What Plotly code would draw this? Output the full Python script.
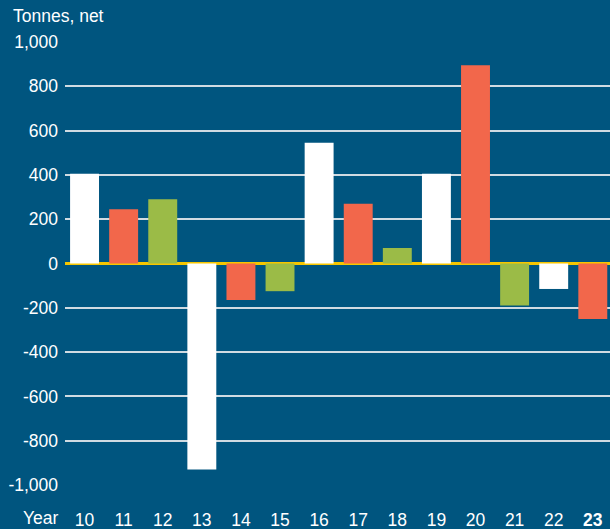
import plotly.graph_objects as go

years = ["10", "11", "12", "13", "14", "15", "16", "17", "18", "19", "20", "21", "22", "23"]
values = [405, 245, 290, -930, -165, -125, 545, 270, 70, 405, 895, -190, -115, -250]
palette = ["#ffffff", "#f2674b", "#9bbb47"]
colors = [palette[i % 3] for i in range(len(years))]
tick_labels = ["<b>23</b>" if y == "23" else y for y in years]
y_ticks = [-1000, -800, -600, -400, -200, 0, 200, 400, 600, 800, 1000]
y_tick_text = ["-1,000", "-800", "-600", "-400", "-200", "0", "200", "400", "600", "800", "1,000"]

BG = "#00557f"
FONT = "Liberation Sans, Arial, sans-serif"
FS = 17.5

fig = go.Figure(go.Bar(x=years, y=values, marker=dict(color=colors, line=dict(width=0)), width=0.74))

fig.update_layout(
    width=610, height=529,
    paper_bgcolor=BG, plot_bgcolor=BG,
    margin=dict(l=65, r=0, t=42, b=44),
    showlegend=False,
    font=dict(family=FONT, size=FS, color="#ffffff"),
    xaxis=dict(
        type="category", range=[-0.5, 13.44],
        tickmode="array", tickvals=years, ticktext=tick_labels,
        showgrid=False, showline=False, zeroline=False,
        ticks="", ticklabelstandoff=22,
        tickfont=dict(size=FS, color="#ffffff"),
    ),
    yaxis=dict(
        range=[-1000, 1000],
        tickmode="array", tickvals=y_ticks, ticktext=y_tick_text,
        showgrid=True, gridcolor="#d0dbe2", gridwidth=1.6,
        zeroline=True, zerolinecolor="#f7c600", zerolinewidth=3,
        showline=False, ticks="", ticklabelstandoff=6,
        tickfont=dict(size=FS, color="#ffffff"),
    ),
    annotations=[
        dict(text="Tonnes, net", xref="paper", yref="paper", x=-65/545, y=1 + 26/443,
             xanchor="left", yanchor="middle", showarrow=False, xshift=11,
             font=dict(size=FS, color="#ffffff")),
        dict(text="Year", xref="paper", yref="paper", x=-65/545, y=-33/443,
             xanchor="left", yanchor="middle", showarrow=False, xshift=21,
             font=dict(size=FS, color="#ffffff")),
    ],
)

fig.write_html(
    "out.html",
    config={"displayModeBar": False},
    post_script="document.body.style.margin='0';document.body.style.overflow='hidden';",
)
